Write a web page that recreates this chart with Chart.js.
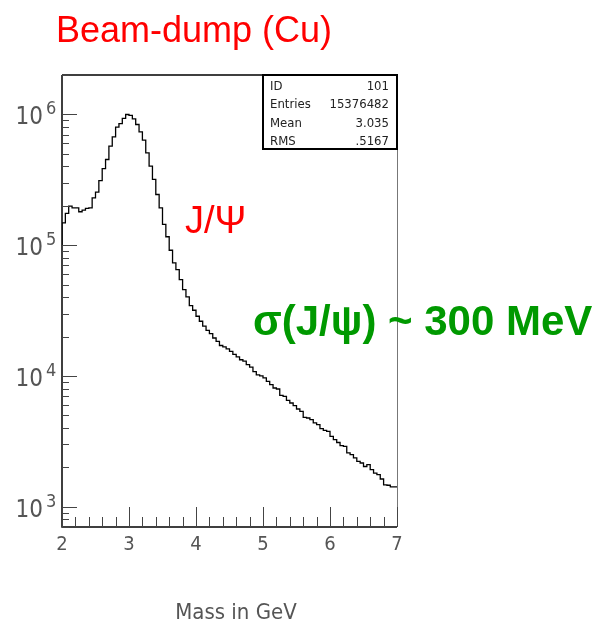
<!DOCTYPE html>
<html>
<head>
<meta charset="utf-8">
<script src="https://cdn.jsdelivr.net/npm/chart.js@4"></script>
<style>
  body { margin: 0; background: #fff; }
  #chart { display: block; }
</style>
</head>
<body>
<canvas id="chart" width="613" height="626"></canvas>
<script>
// ======= DATA =======
const binStart = 2.0;
const binWidth = 0.05;
// counts per 0.05 GeV bin, 2.00 .. 7.00
const counts = [
  1.0e5, 1.48e5, 1.75e5, 1.99e5, 1.93e5, 1.93e5, 1.80e5, 1.85e5, 1.91e5, 1.93e5,
  2.30e5, 2.54e5, 3.12e5, 3.85e5, 4.52e5, 5.71e5, 6.74e5, 7.98e5, 8.51e5, 9.31e5,
  9.98e5, 9.81e5, 9.25e5, 8.37e5, 7.36e5, 6.35e5, 5.08e5, 4.02e5, 3.18e5, 2.44e5,
  1.93e5, 1.44e5, 1.16e5, 9.14e4, 7.32e4, 6.51e4, 5.45e4, 4.57e4, 4.02e4, 3.45e4,
  3.18e4, 2.86e4, 2.62e4, 2.40e4, 2.23e4, 2.11e4, 1.95e4, 1.84e4, 1.71e4, 1.67e4,
  1.61e4, 1.54e4, 1.46e4, 1.40e4, 1.33e4, 1.30e4, 1.22e4, 1.17e4, 1.08e4, 1.02e4,
  1.00e4, 9.66e3, 9.09e3, 8.58e3, 8.09e3, 7.95e3, 7.11e3, 6.98e3, 6.51e3, 6.21e3,
  5.93e3, 5.59e3, 5.36e3, 4.82e3, 4.77e3, 4.63e3, 4.37e3, 4.24e3, 3.95e3, 3.84e3,
  3.77e3, 3.45e3, 3.26e3, 3.10e3, 2.93e3, 2.89e3, 2.58e3, 2.50e3, 2.36e3, 2.22e3,
  2.16e3, 2.03e3, 2.10e3, 1.92e3, 1.81e3, 1.76e3, 1.63e3, 1.47e3, 1.46e3, 1.42e3
];
const xTicks = [2, 3, 4, 5, 6, 7];
const yDecades = [3, 4, 5, 6];
const statsLabels = ["ID", "Entries", "Mean", "RMS"];
const statsValues = ["101", "15376482", "3.035", ".5167"];

const title = "Beam-dump (Cu)";
const peakLabel = "J/Ψ";
const widthLabel = "σ(J/ψ) ~ 300 MeV";
const xTitle = "Mass in GeV";

// histogram points (left edge of each bin + closing point at the right edge)
const points = counts.map((c, i) => ({ x: binStart + i * binWidth, y: c }));
points.push({ x: binStart + counts.length * binWidth, y: counts[counts.length - 1] });

const thinFont = '"Liberation Sans Narrow", "DejaVu Sans Condensed", sans-serif';

// ======= FRAME, TICKS, TEXT =======
const decor = {
  id: "decor",
  afterDraw(chart) {
    const c = chart.ctx;
    const a = chart.chartArea;
    const xs = chart.scales.x;
    const ys = chart.scales.y;
    c.save();

    // frame
    c.strokeStyle = "#000";
    c.lineWidth = 1.5;
    c.beginPath();
    c.moveTo(a.left, a.top); c.lineTo(a.left, a.bottom); c.lineTo(a.right, a.bottom);
    c.moveTo(a.left, a.top); c.lineTo(a.right, a.top);
    c.stroke();
    c.strokeStyle = "#777";
    c.lineWidth = 1;
    c.beginPath();
    c.moveTo(a.right + 0.5, a.top); c.lineTo(a.right + 0.5, a.bottom);
    c.stroke();

    // x ticks (inside, pointing up)
    c.strokeStyle = "#444";
    c.lineWidth = 1;
    c.beginPath();
    for (let k = 0; k <= 25; k++) {
      const v = xs.min + k * 0.2;
      const px = Math.round(xs.getPixelForValue(v)) + 0.5;
      const major = k % 5 === 0;
      c.moveTo(px, a.bottom);
      c.lineTo(px, a.bottom - (major ? 20 : 10));
    }
    // y ticks (inside, pointing right)
    for (let d = 2; d <= 6; d++) {
      for (let m = 1; m <= 9; m++) {
        const v = m * Math.pow(10, d);
        if (v < ys.min || v > ys.max) continue;
        const py = Math.round(ys.getPixelForValue(v)) + 0.5;
        c.moveTo(a.left, py);
        c.lineTo(a.left + (m === 1 ? 15 : 7), py);
      }
    }
    c.stroke();

    // x tick labels
    c.fillStyle = "#555";
    c.font = "20px " + thinFont;
    c.textAlign = "center";
    c.textBaseline = "middle";
    xTicks.forEach(t => c.fillText(String(t), xs.getPixelForValue(t), 545));

    // y tick labels 10^n
    yDecades.forEach(n => {
      const py = ys.getPixelForValue(Math.pow(10, n));
      c.textBaseline = "alphabetic";
      c.textAlign = "right";
      c.font = "24px " + thinFont;
      c.fillText("10", 43, py + 10);
      c.textAlign = "left";
      c.font = "18px " + thinFont;
      c.fillText(String(n), 46, py);
    });

    // axis title
    c.textAlign = "center";
    c.font = "22px " + thinFont;
    c.fillText(xTitle, 236, 619);

    // stats box
    c.fillStyle = "#fff";
    c.fillRect(263, a.top, a.right - 263, 74);
    c.strokeStyle = "#000";
    c.lineWidth = 2;
    c.strokeRect(263, a.top, a.right - 263, 74);
    c.fillStyle = "#222";
    c.font = "13px " + thinFont;
    statsLabels.forEach((s, i) => {
      const by = 90 + i * 18.3;
      c.textAlign = "left";
      c.fillText(s, 270, by);
      c.textAlign = "right";
      c.fillText(statsValues[i], 389, by);
    });

    // annotations
    c.fillStyle = "#ff0000";
    c.textAlign = "center";
    c.font = "36px 'Liberation Sans', Arial, sans-serif";
    c.fillText(title, 194, 42);
    c.textAlign = "left";
    c.font = "38px 'Liberation Sans', Arial, sans-serif";
    c.fillText(peakLabel, 185, 233);
    c.fillStyle = "#009900";
    c.font = "bold 42px 'Liberation Sans', Arial, sans-serif";
    c.fillText(widthLabel, 253, 335);

    c.restore();
  }
};

// ======= CHART =======
const ctx = document.getElementById("chart");
new Chart(ctx, {
  type: "line",
  data: {
    datasets: [{
      data: points,
      stepped: "after",
      borderColor: "#000",
      borderWidth: 1.3,
      pointRadius: 0,
      fill: false
    }]
  },
  options: {
    responsive: false,
    animation: false,
    layout: { padding: { left: 62, top: 75, right: 216, bottom: 99 } },
    plugins: { legend: { display: false }, tooltip: { enabled: false } },
    scales: {
      x: { type: "linear", min: 2, max: 7, display: false },
      y: { type: "logarithmic", min: 700, max: 2.0e6, display: false }
    }
  },
  plugins: [decor]
});
</script>
</body>
</html>
